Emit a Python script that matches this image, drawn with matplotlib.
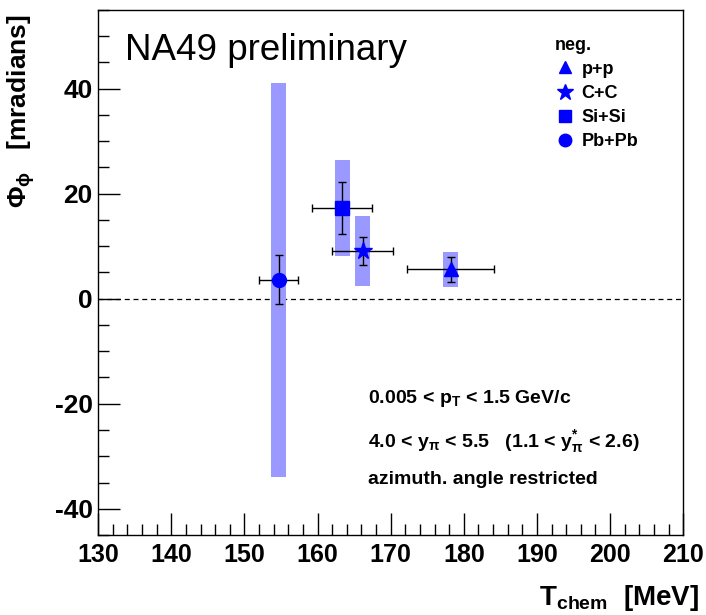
import matplotlib
matplotlib.use("Agg")
import matplotlib.pyplot as plt
from matplotlib.lines import Line2D
from matplotlib.ticker import MultipleLocator

plt.rcParams['font.family'] = ['Liberation Sans', 'DejaVu Sans']
plt.rcParams['mathtext.fontset'] = 'custom'
plt.rcParams['mathtext.rm'] = 'Liberation Sans:bold'
plt.rcParams['mathtext.bf'] = 'Liberation Sans:bold'
plt.rcParams['mathtext.it'] = 'Liberation Sans:bold'
plt.rcParams['axes.unicode_minus'] = False

# data
systems = ["p+p", "C+C", "Si+Si", "Pb+Pb"]
markers = ["^", "*", "s", "o"]
t_chem = [178.2, 166.2, 163.4, 154.7]
t_err = [5.95, 4.15, 4.1, 2.7]
phi = [5.6, 9.1, 17.3, 3.6]
phi_err = [2.4, 2.7, 5.0, 4.7]
sys_lo = [2.2, 2.4, 8.1, -33.9]
sys_hi = [8.9, 15.8, 26.5, 41.1]
band_w = 2.05

fig = plt.figure(figsize=(7.06, 6.15), dpi=100)
ax = fig.add_axes([0.139, 0.130, 0.8286, 0.854])

blue = "#0000ff"
band = "#9999ff"

for i in range(len(systems)):
    ax.add_patch(plt.Rectangle((t_chem[i] - band_w / 2, sys_lo[i]), band_w,
                               sys_hi[i] - sys_lo[i], color=band, lw=0, zorder=1))
    ax.errorbar(t_chem[i], phi[i], xerr=t_err[i], yerr=phi_err[i], fmt="none",
                ecolor="black", elinewidth=1, capsize=3, capthick=1, zorder=2)
    ms = 13 if markers[i] == "*" else 10
    ax.plot(t_chem[i], phi[i], marker=markers[i], color=blue, ms=ms, ls="none", zorder=3)

ax.axhline(0, color="black", ls=(0, (4, 3)), lw=0.9, zorder=0)

ax.set_xlim(130, 210)
ax.set_ylim(-45, 55)
ax.xaxis.set_major_locator(MultipleLocator(10))
ax.xaxis.set_minor_locator(MultipleLocator(2))
ax.yaxis.set_major_locator(MultipleLocator(20))
ax.yaxis.set_minor_locator(MultipleLocator(5))
ax.tick_params(which="both", direction="in", top=False, right=False)
ax.tick_params(which="major", length=16, width=1, labelsize=19, pad=4)
ax.tick_params(which="minor", length=8, width=1)
ax.tick_params(axis="x", labelsize=18, pad=6)
for lab in ax.get_xticklabels() + ax.get_yticklabels():
    lab.set_fontweight("bold")
for s in ax.spines.values():
    s.set_linewidth(1)

ax.text(0.046, 0.955, "NA49 preliminary", transform=ax.transAxes, fontsize=26.5,
        va="top", ha="left")

handles = [Line2D([], [], marker=m, color=blue, ls="none",
                  ms=(12 if m == "*" else 9)) for m in markers]
leg = ax.legend(handles, systems, title="neg.", loc="upper left",
                bbox_to_anchor=(0.752, 0.98), frameon=False, handletextpad=0.3,
                labelspacing=0.4, handlelength=1.2, alignment="left",
                prop={"weight": "bold", "size": 13},
                title_fontproperties={"weight": "bold", "size": 13})

tx = 0.462
ax.text(tx, 0.26, r"0.005 < p$_{\mathrm{T}}$ < 1.5 GeV/c", transform=ax.transAxes,
        fontsize=14, fontweight="bold", va="center")
ax.text(tx, 0.178, r"4.0 < y$_{\pi}$ < 5.5   (1.1 < y$^{*}_{\pi}$ < 2.6)",
        transform=ax.transAxes, fontsize=14, fontweight="bold", va="center")
ax.text(tx, 0.106, "azimuth. angle restricted", transform=ax.transAxes,
        fontsize=14, fontweight="bold", va="center")

fig.text(0.03, 0.82, r"$\Phi_{\phi}$   [mradians]", rotation=90, fontsize=19,
         fontweight="bold", ha="center", va="center")
fig.text(0.99, 0.028, r"T$_{\mathrm{chem}}$  [MeV]", fontsize=20,
         fontweight="bold", ha="right", va="center")

fig.savefig("out.png", dpi=100, facecolor="white")
